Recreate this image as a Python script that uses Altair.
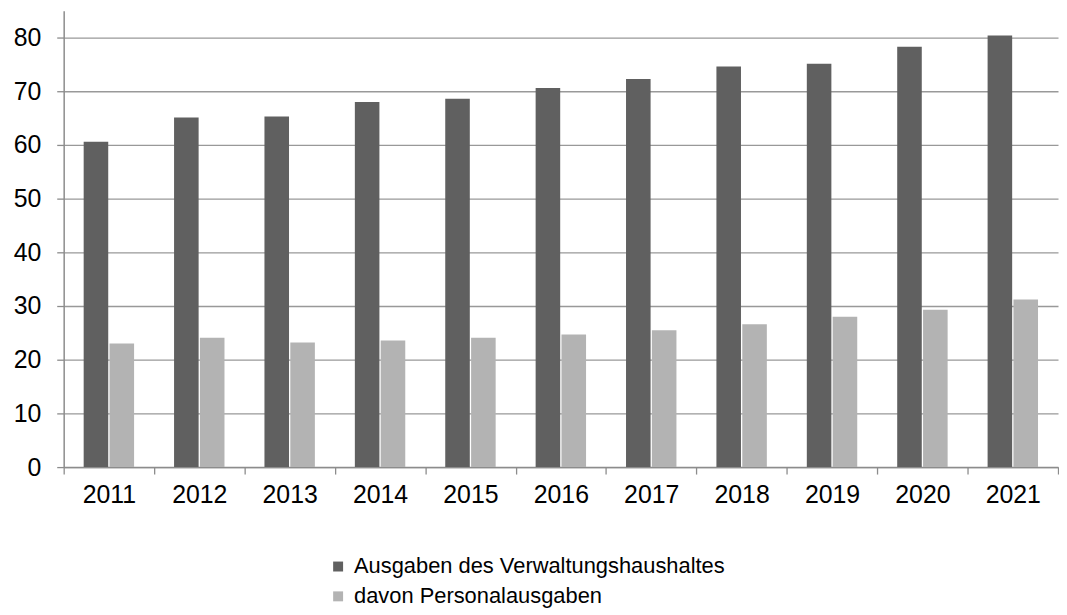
import altair as alt
import pandas as pd

years = ["2011", "2012", "2013", "2014", "2015", "2016", "2017", "2018", "2019", "2020", "2021"]
series = ["Ausgaben des Verwaltungshaushaltes", "davon Personalausgaben"]
ausgaben = [60.6, 65.1, 65.3, 68.0, 68.6, 70.6, 72.3, 74.6, 75.1, 78.3, 80.4]
personal = [23.0, 24.1, 23.2, 23.6, 24.1, 24.7, 25.5, 26.6, 28.0, 29.3, 31.2]
y_ticks = [0, 10, 20, 30, 40, 50, 60, 70, 80]
colors = ["#606060", "#b3b3b3"]

rows = []
for i, y in enumerate(years):
    rows.append({"Jahr": y, "Reihe": series[0], "Wert": ausgaben[i]})
    rows.append({"Jahr": y, "Reihe": series[1], "Wert": personal[i]})
df = pd.DataFrame(rows)

font = "Liberation Sans"

chart = alt.Chart(df).mark_bar().encode(
    x=alt.X("Jahr:N", sort=years,
            scale=alt.Scale(paddingInner=0, paddingOuter=0),
            axis=alt.Axis(title=None, labelAngle=0, tickBand="extent",
                          labelFontSize=25, labelFont=font, labelColor="#000000",
                          labelPadding=9, tickSize=7, tickColor="#8c8c8c",
                          tickWidth=1.3, domainColor="#8c8c8c", domainWidth=1.5,
                          grid=False)),
    xOffset=alt.XOffset("Reihe:N", sort=series,
                        scale=alt.Scale(paddingInner=0.05, paddingOuter=0.773)),
    y=alt.Y("Wert:Q", scale=alt.Scale(domain=[0, 85], nice=False),
            axis=alt.Axis(title=None, values=y_ticks, labelFontSize=25, labelFont=font,
                          labelColor="#000000", labelPadding=16, tickSize=7,
                          tickColor="#8c8c8c", tickWidth=1.3, domainColor="#8c8c8c",
                          domainWidth=1.5, gridColor="#999999", gridWidth=1.3,
                          minExtent=56, maxExtent=56)),
    color=alt.Color("Reihe:N",
                    scale=alt.Scale(domain=series, range=colors),
                    legend=alt.Legend(title=None, orient="none", legendX=265, legendY=548,
                                      direction="vertical", symbolType="square",
                                      symbolSize=100, symbolStrokeWidth=0,
                                      labelFontSize=22, labelFont=font, labelLimit=0,
                                      labelColor="#000000", labelOffset=5,
                                      rowPadding=8, padding=0)),
).properties(
    width=1000, height=459,
    padding={"left": 0, "top": 1, "right": 0, "bottom": 0},
).configure_view(stroke=None)

chart.save("out.html", embed_options={"renderer": "svg", "actions": False})
